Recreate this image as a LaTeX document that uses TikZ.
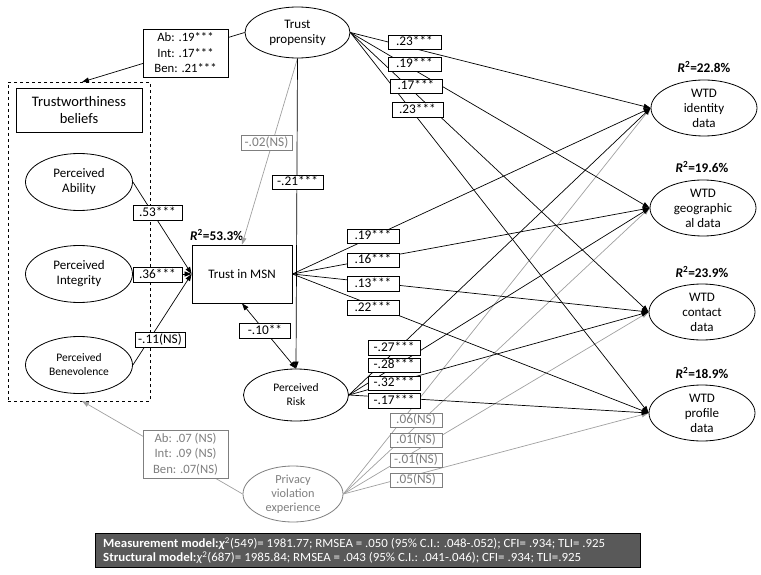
\documentclass[tikz,border=0pt]{standalone}
\usepackage{fontspec}
\setmainfont{Carlito}
\usetikzlibrary{arrows.meta,shapes.geometric}
\definecolor{lgray}{HTML}{A0A0A0}
\definecolor{tgray}{HTML}{7F7F7F}
\definecolor{boxgray}{HTML}{595959}
\newcommand{\rtwo}[1]{\textbf{\textit{R}\textsuperscript{2}=#1\%}}
\begin{document}
\begin{tikzpicture}[x=1pt,y=-1pt,
  every node/.style={font=\fontsize{13}{15}\selectfont, align=center, inner sep=0pt},
  ell/.style={ellipse, draw, line width=0.8pt, minimum width=106pt, minimum height=56pt},
  lbl/.style={draw, fill=white, line width=0.8pt, minimum width=51pt, inner xsep=2pt, inner ysep=1.5pt,
              text height=9pt, text depth=2.5pt, font=\fontsize{13.3}{14}\selectfont},
  glbl/.style={lbl, draw=tgray, text=tgray},
  con/.style={line width=0.7pt, -{Triangle[length=7pt,width=5pt]}},
  gcon/.style={con, draw=lgray},
  rlab/.style={font=\fontsize{13.3}{14}\selectfont},
  fitline/.style={text=white, anchor=west, font=\fontsize{12.5}{14}\selectfont}
]
\useasboundingbox (0,0) rectangle (761,575);

% ---- nodes ----
\node[ell, minimum width=105pt, minimum height=51pt] (tp) at (297.5,32.5) {Trust\\propensity};
\node[draw, dashed, line width=0.8pt, minimum width=142pt, minimum height=319pt] (tw) at (79,241.5) {};
\coordinate (twtop) at (82,82);
\coordinate (twbot) at (82,401);
\node[draw, line width=0.8pt, minimum width=126pt, minimum height=44pt,
      font=\fontsize{14.5}{16.5}\selectfont] (tb) at (79,110) {Trustworthiness\\beliefs};
\node[ell, minimum width=107pt, minimum height=57pt] (pa) at (79,182) {Perceived\\Ability};
\node[ell, minimum width=107pt, minimum height=57pt] (pi) at (79,274) {Perceived\\Integrity};
\node[ell, minimum width=107pt, minimum height=57pt, font=\fontsize{11.5}{14}\selectfont] (pb) at (79,365) {Perceived\\Benevolence};
\node[draw, line width=0.8pt, minimum width=100pt, minimum height=58pt] (msn) at (242,274) {Trust in MSN};
\node[rlab, anchor=west] (r0) at (190,235) {\rtwo{53.3}};
\node[ell, minimum width=105pt, minimum height=52pt, font=\fontsize{11.5}{14}\selectfont] (pr) at (296,395) {Perceived\\Risk};
\node[ell, draw=tgray, text=tgray, minimum width=100pt, minimum height=56pt,
      font=\fontsize{12.3}{14}\selectfont] (pv) at (293,494) {Privacy\\violation\\experience};

\node[ell] (wi) at (704,108) {WTD\\identity\\data};
\node[ell] (wg) at (703,208) {WTD\\geographic\\al data};
\node[ell] (wc) at (702,312) {WTD\\contact\\data};
\node[ell] (wp) at (702,413) {WTD\\profile\\data};
\node[rlab] (r1) at (704,67) {\rtwo{22.8}};
\node[rlab] (r2) at (702,167) {\rtwo{19.6}};
\node[rlab] (r3) at (702,272) {\rtwo{23.9}};
\node[rlab] (r4) at (702,373) {\rtwo{18.9}};

% ---- connectors ----
\foreach \t in {wi,wg,wc,wp} {
  \draw[gcon] (pv.east) -- (\t.west);
}
\foreach \t in {wi,wg,wc,wp} {
  \draw[con] (tp.east) -- (\t.west);
  \draw[con] (msn.east) -- (\t.west);
  \draw[con] (pr.east) -- (\t.west);
}
\draw[con] (tp.west) -- (twtop);
\draw[gcon] (pv.west) -- (twbot);
\draw[con] (pa.east) -- (msn.west);
\draw[con] (pi.east) -- (msn.west);
\draw[con] (pb.east) -- (msn.west);
\draw[gcon] (tp.south) -- (msn.north);
\draw[con] (tp.south) -- (pr.north);
\draw[line width=0.7pt, {Triangle[length=7pt,width=5pt]}-{Triangle[length=7pt,width=5pt]}] (msn.south) -- (pr.north);

% ---- labels ----
\node[lbl, minimum width=85pt, minimum height=48pt, text height=, text depth=, font=\fontsize{12.7}{15.5}\selectfont] (ab1) at (185.5,53) {Ab: .19***\\Int: .17***\\Ben: .21***};
\node[lbl, draw=tgray, text=tgray, minimum width=85pt, minimum height=48pt, text height=, text depth=, font=\fontsize{12.7}{15.5}\selectfont] (ab2) at (185.5,454) {Ab: .07 (NS)\\Int: .09 (NS)\\Ben: .07(NS)};

\node[lbl, minimum width=49pt] (l53) at (157.5,213) {.53***};
\node[lbl, minimum width=49pt] (l36) at (157.5,275) {.36***};
\node[lbl, minimum width=50pt] (l11) at (160,340) {-.11(NS)};
\node[glbl] (l02) at (266.5,143) {-.02(NS)};
\node[lbl] (l21) at (297.5,182.5) {-.21***};
\node[lbl] (l10) at (265,331) {-.10**};

\node[lbl, minimum width=53pt] (t1) at (414.5,42.5) {.23***};
\node[lbl, minimum width=53pt] (t2) at (414.5,64.5) {.19***};
\node[lbl, minimum width=52pt] (t3) at (416,86.5) {.17***};
\node[lbl, minimum width=51pt] (t4) at (417.5,110) {.23***};

\node[lbl, minimum width=52pt] (m1) at (373,236.5) {.19***};
\node[lbl, minimum width=52pt] (m2) at (373,260.5) {.16***};
\node[lbl, minimum width=52pt] (m3) at (373,284) {.13***};
\node[lbl, minimum width=52pt] (m4) at (373,308) {.22***};

\node[lbl, minimum width=52pt] (k1) at (394,348) {-.27***};
\node[lbl, minimum width=52pt] (k2) at (394,365.5) {-.28***};
\node[lbl, minimum width=52pt] (k3) at (394,383.5) {-.32***};
\node[lbl, minimum width=52pt] (k4) at (394,401) {-.17***};

\node[glbl, minimum width=52pt] (g1) at (416,420.5) {.06(NS)};
\node[glbl, minimum width=52pt] (g2) at (416,440.5) {.01(NS)};
\node[glbl, minimum width=52pt] (g3) at (416,460.5) {-.01(NS)};
\node[glbl, minimum width=52pt] (g4) at (416,480.5) {.05(NS)};

% ---- fit box ----
\node[draw, line width=0.8pt, fill=boxgray, anchor=north west,
      minimum width=545pt, minimum height=34pt] (fitbox) at (95,533) {};
\node[fitline] (fit1) at (103,543.5)
  {\resizebox{502pt}{\height}{\textbf{Measurement model:}\textbf{\textit{χ}}\textsuperscript{2}(549)= 1981.77; RMSEA = .050 (95\% C.I.: .048-.052); CFI= .934; TLI= .925}};
\node[fitline] (fit2) at (103,558)
  {\resizebox{478pt}{\height}{\textbf{Structural model:}\textit{χ}\textsuperscript{2}(687)= 1985.84; RMSEA = .043 (95\% C.I.: .041-.046); CFI= .934; TLI=.925}};
\end{tikzpicture}
\end{document}
